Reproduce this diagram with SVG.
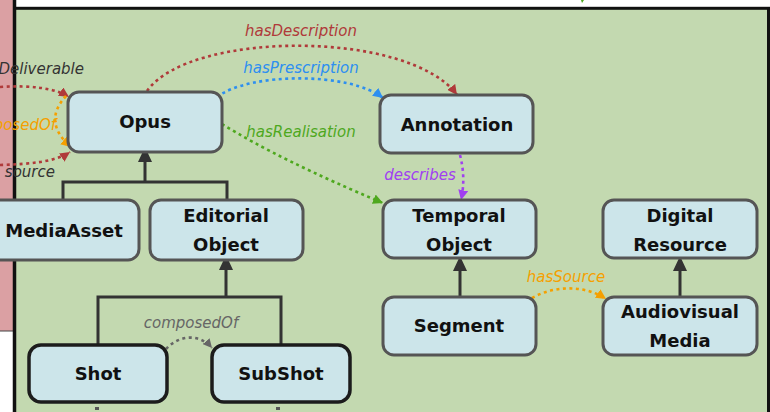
<svg xmlns="http://www.w3.org/2000/svg" width="770" height="412" viewBox="0 0 770 412">
<style>
.node rect{fill:#cce5ea;stroke:#555;stroke-width:3}
.node.dark rect{stroke:#1c1c1c;stroke-width:3.5}
.node text{font-family:"DejaVu Sans",Verdana,sans-serif;font-weight:bold;font-size:18px;fill:#111;text-anchor:middle}
.lbl{font-family:"DejaVu Sans",Verdana,sans-serif;font-style:italic;font-size:15px;text-anchor:middle}
.inh{fill:none;stroke:#333;stroke-width:3}
.tri{fill:#333}
.dot{fill:none;stroke-width:2.6;stroke-dasharray:3 3.5}
</style>
<defs>
<marker id="aRed" viewBox="0 0 10 10" refX="10" refY="5" markerWidth="10" markerHeight="10" markerUnits="userSpaceOnUse" orient="auto"><path d="M0,0L10,5L0,10z" fill="#b03a3a"/></marker>
<marker id="aBlue" viewBox="0 0 10 10" refX="10" refY="5" markerWidth="10" markerHeight="10" markerUnits="userSpaceOnUse" orient="auto"><path d="M0,0L10,5L0,10z" fill="#2d8ff0"/></marker>
<marker id="aGreen" viewBox="0 0 10 10" refX="10" refY="5" markerWidth="10" markerHeight="10" markerUnits="userSpaceOnUse" orient="auto"><path d="M0,0L10,5L0,10z" fill="#4ea81e"/></marker>
<marker id="aPurple" viewBox="0 0 10 10" refX="10" refY="5" markerWidth="10" markerHeight="10" markerUnits="userSpaceOnUse" orient="auto"><path d="M0,0L10,5L0,10z" fill="#a040f0"/></marker>
<marker id="aOrange" viewBox="0 0 10 10" refX="10" refY="5" markerWidth="10" markerHeight="10" markerUnits="userSpaceOnUse" orient="auto"><path d="M0,0L10,5L0,10z" fill="#f5a000"/></marker>
<marker id="aGray" viewBox="0 0 10 10" refX="10" refY="5" markerWidth="9" markerHeight="9" markerUnits="userSpaceOnUse" orient="auto"><path d="M0,0L10,5L0,10z" fill="#666"/></marker>
</defs>
<rect x="0" y="0" width="770" height="412" fill="#fff"/>
<rect x="0" y="0" width="13" height="331" fill="#dba0a3"/>
<line x1="0" y1="331" x2="13" y2="331" stroke="#444" stroke-width="1"/>
<rect x="14.5" y="8.3" width="754" height="410" fill="#c3d9b0" stroke="#111" stroke-width="3"/>
<line x1="14.5" y1="0" x2="14.5" y2="412" stroke="#111" stroke-width="3.5"/>
<path d="M581,0 L584,0 L582,3z" fill="#4ea81e"/>

<g id="connectors">
  <!-- inheritance -->
  <path class="inh" d="M63,200 V182 H227 V200 M145,182 V160"/>
  <polygon class="tri" points="145,147 138,162 152,162"/>
  <path class="inh" d="M98,345 V297 H281 V345 M226,297 V268"/>
  <polygon class="tri" points="226,255 219,270 233,270"/>
  <path class="inh" d="M460,297 V268"/>
  <polygon class="tri" points="460,256 453,271 467,271"/>
  <path class="inh" d="M680,297 V268"/>
  <polygon class="tri" points="680,256 673,271 687,271"/>
  <rect x="95" y="407" width="4" height="3" fill="#555"/>
  <rect x="276" y="407" width="4" height="3" fill="#555"/>
  <!-- dotted relations -->
  <path class="dot" stroke="#b03a3a" marker-end="url(#aRed)" d="M147,91 C190,30 410,30 457,95"/>
  <path class="dot" stroke="#2d8ff0" marker-end="url(#aBlue)" d="M217,97 C250,72 350,72 383,98"/>
  <path class="dot" stroke="#4ea81e" marker-end="url(#aGreen)" d="M222,124 Q280,160 383,203"/>
  <path class="dot" stroke="#a040f0" marker-end="url(#aPurple)" d="M460,155 Q466,178 461,200"/>
  <path class="dot" stroke="#f5a000" marker-end="url(#aOrange)" d="M532,298 C555,285 585,285 606,299"/>
  <path class="dot" stroke="#666" stroke-width="2.2" marker-end="url(#aGray)" d="M166,349 C180,334 200,334 212,348"/>
  <path class="dot" stroke="#b03a3a" marker-end="url(#aRed)" d="M0,87 C30,85 55,88 69,97"/>
  <path class="dot" stroke="#f5a000" marker-end="url(#aOrange)" d="M66,96 Q42,122 71,147"/>
  <path class="dot" stroke="#b03a3a" marker-end="url(#aRed)" d="M0,165 C30,164 55,162 70,152"/>
  <!-- labels -->
  <text class="lbl" x="301" y="36" fill="#b03a3a">hasDescription</text>
  <text class="lbl" x="301" y="73" fill="#2d8ff0">hasPrescription</text>
  <text class="lbl" x="301" y="137" fill="#4ea81e">hasRealisation</text>
  <text class="lbl" x="420" y="180" fill="#a040f0">describes</text>
  <text class="lbl" x="566" y="282" fill="#f5a000">hasSource</text>
  <text class="lbl" x="191" y="328" fill="#666" font-size="13">composedOf</text>
  <text class="lbl" x="84" y="74" fill="#333" text-anchor="end" style="text-anchor:end">Deliverable</text>
  <text class="lbl" x="56" y="130" fill="#f5a000" style="text-anchor:end">composedOf</text>
  <text class="lbl" x="55" y="177" fill="#333" style="text-anchor:end">source</text>
</g>

<g id="opus" class="node"><rect x="68" y="92" width="154" height="60" rx="11"/><text x="145" y="128">Opus</text></g>
<g id="annotation" class="node"><rect x="380" y="95" width="153" height="58" rx="11"/><text x="457" y="131">Annotation</text></g>
<g id="mediaasset" class="node"><rect x="-11" y="200" width="150" height="60" rx="11"/><text x="64" y="237">MediaAsset</text></g>
<g id="editorialobject" class="node"><rect x="150" y="200" width="153" height="60" rx="11"/><text x="226" y="222">Editorial</text><text x="226" y="251">Object</text></g>
<g id="temporalobject" class="node"><rect x="383" y="200" width="153" height="58" rx="11"/><text x="459" y="222">Temporal</text><text x="459" y="251">Object</text></g>
<g id="digitalresource" class="node"><rect x="603" y="200" width="154" height="58" rx="11"/><text x="680" y="222">Digital</text><text x="680" y="251">Resource</text></g>
<g id="segment" class="node"><rect x="383" y="297" width="153" height="58" rx="11"/><text x="459" y="332">Segment</text></g>
<g id="audiovisualmedia" class="node"><rect x="603" y="297" width="154" height="58" rx="11"/><text x="680" y="318">Audiovisual</text><text x="680" y="347">Media</text></g>
<g id="shot" class="node dark"><rect x="29" y="345" width="138" height="57" rx="12"/><text x="98" y="380">Shot</text></g>
<g id="subshot" class="node dark"><rect x="212" y="345" width="138" height="57" rx="12"/><text x="281" y="380">SubShot</text></g>
</svg>
